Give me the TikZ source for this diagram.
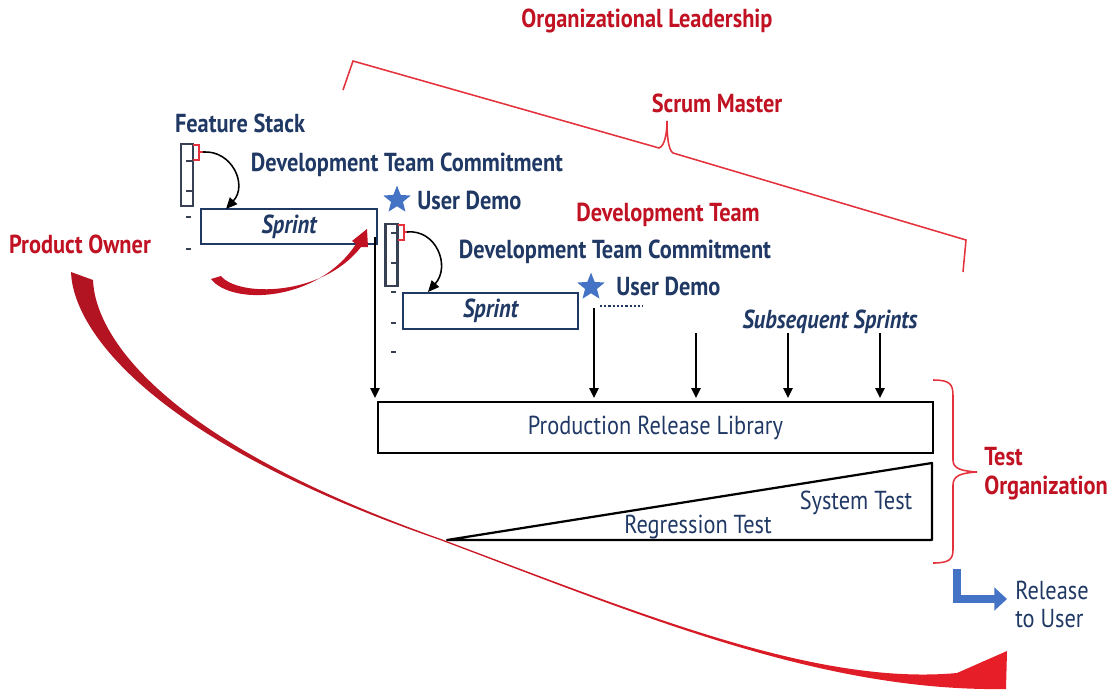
\documentclass[tikz,border=0pt]{standalone}
\usepackage{fontspec}
\setmainfont{PT Sans}[FakeStretch=0.86]
\usetikzlibrary{arrows.meta,shapes.geometric}

\definecolor{navy}{RGB}{31,56,100}
\definecolor{ownerred}{RGB}{192,18,34}
\definecolor{bracered}{RGB}{228,50,60}
\definecolor{demoblue}{RGB}{68,114,196}
\definecolor{boxline}{RGB}{56,64,84}
\definecolor{arrowdark}{RGB}{178,20,34}
\definecolor{arrowlight}{RGB}{232,30,40}

\tikzset{
  redlabel/.style={ownerred, inner sep=0pt, font=\fontsize{18.5}{20.5}\selectfont\bfseries},
  navylabel/.style={navy, inner sep=0pt, font=\fontsize{18.5}{20.5}\selectfont\bfseries},
  navytext/.style={navy, inner sep=0pt, font=\fontsize{18.5}{20}\selectfont},
  sprintbox/.style={draw=boxline, line width=1.3pt, navy, inner sep=0pt, font=\fontsize{18.5}{20}\selectfont\bfseries\itshape},
  stackbox/.style={draw=boxline, line width=1.5pt, minimum width=0.3cm, minimum height=1.55cm, inner sep=0pt},
  demostar/.style={star, star points=5, star point ratio=2.3, fill=demoblue, inner sep=0pt, minimum size=0.72cm},
  droparrow/.style={line width=1.4pt, -{Triangle[length=7pt,width=6.5pt]}, shorten >=2pt},
  turnarrow/.style={line width=1.1pt, -{Triangle[length=8pt,width=7pt]}},
  bracket/.style={bracered, line width=1.1pt},
  stackmark/.style={boxline, line width=0.8pt}
}

\begin{document}
\begin{tikzpicture}[x=0.025cm, y=-0.025cm]
\useasboundingbox (0,0) rectangle (1109,690);

% roles
\node[redlabel] (orglead) at (647,21) {Organizational Leadership};
\node[redlabel] (scrum) at (717,103) {Scrum Master};
\node[redlabel] (devteam) at (668,215) {Development Team};
\node[redlabel] (owner) at (80,244) {Product Owner};
\node[redlabel, anchor=west, align=left] (testorg) at (984,474) {Test\\Organization};

\draw[bracket] (343,90) -- (353,61) -- (659,148) .. controls (665,146) and (667,132) .. (667,121)
  .. controls (667,134) and (668,150) .. (673,153) -- (966,240) -- (963,272);
\draw[bracket] (933,380) .. controls (950,380) and (953,384) .. (953,396) -- (953,460)
  .. controls (953,468) and (960,471) .. (977,472) .. controls (960,473) and (953,476) .. (953,485)
  -- (953,550) .. controls (953,560) and (948,563) .. (933,563);

% first sprint
\node[navylabel] (featstack) at (240,123) {Feature Stack};
\node[stackbox] (stack1) at (187,175) {};
\draw[stackmark] (186,161) -- (193,161) (186,191) -- (193,191);
\foreach \yy in {217,249} \draw[stackmark] (186,\yy) -- (191,\yy);
\draw[bracket] (193,145) -- (199,145) -- (199,160) -- (193,160) (199,152) -- (203,152);
\node[navylabel] (commit1) at (407,165) {Development Team Commitment};
\node[sprintbox, minimum width=4.4cm, minimum height=0.875cm] (sprint1) at (289,226.5) {Sprint};
\coordinate (pick1) at (203,152);
\coordinate (land1) at (226,209);
\draw[turnarrow] (pick1) .. controls (232,150) and (248,185) .. (land1);
\node[demostar] (star1) at (397,200) {};
\node[navylabel, anchor=west] (demo1) at (417,200) {User Demo};
\fill[ownerred] (211,279) .. controls (232,306) and (318,302) .. (356,244) -- (352,241) -- (367,229)
  -- (368,247) -- (361,247) .. controls (322,297) and (238,297) .. (221,276) -- cycle;

% second sprint
\node[stackbox] (stack2) at (391.5,255) {};
\draw[stackmark] (391,233) -- (398,233) (391,263) -- (398,263);
\foreach \yy in {292,323,352} \draw[stackmark] (391,\yy) -- (396,\yy);
\draw[bracket] (398,225) -- (404,225) -- (404,240) -- (398,240) (404,232) -- (407,232);
\node[navylabel] (commit2) at (615,252) {Development Team Commitment};
\node[sprintbox, minimum width=4.375cm, minimum height=0.9cm] (sprint2) at (490.5,311) {Sprint};
\coordinate (pick2) at (407,232);
\coordinate (land2) at (428,292);
\draw[turnarrow] (pick2) .. controls (436,229) and (451,266) .. (land2);
\node[demostar] (star2) at (591,287) {};
\node[navylabel, anchor=west] (demo2) at (616,286) {User Demo};
\draw[navy, line width=1.4pt, dash pattern=on 1.6pt off 1.4pt] (600,306) -- (643,306);

\node[navylabel, font=\fontsize{18.5}{20.5}\selectfont\bfseries\itshape] (subseq) at (830,322) {Subsequent Sprints};

% release chain
\node[draw=black, text=navy, line width=1.6pt, minimum width=13.875cm, minimum height=1.275cm, inner sep=0pt,
  font=\fontsize{18.5}{20}\selectfont] (prodlib) at (655.5,427.5) {Production Release Library};
\coordinate (drop0) at (375,237);
\coordinate (drop1) at (594,308);
\draw[droparrow] (drop0) -- (drop0 |- prodlib.north);
\draw[droparrow] (drop1) -- (drop1 |- prodlib.north);
\foreach \xx in {696,788,880} {
  \coordinate (dropx) at (\xx,333);
  \draw[droparrow] (dropx) -- (dropx |- prodlib.north);
}

\draw[line width=1.6pt, line join=round] (447,540) -- (932,463) -- (932,540) -- cycle;
\node[navytext] (systest) at (856,503) {System Test};
\node[navytext] (regtest) at (698,527) {Regression Test};

\coordinate (turn) at (957,569);
\coordinate (handoff) at (1007,599);
\draw[demoblue, line width=6pt, -{Triangle[length=9pt,width=16pt]}] (turn) |- (handoff);
\node[navytext, anchor=west, align=left, font=\fontsize{18.5}{20}\selectfont] (release) at (1015,604) {Release\\to User};

% product owner sweep
\shade[left color=arrowdark, right color=arrowlight]
  (71,272) .. controls (73,330) and (150,440) .. (440,540)
  .. controls (640,615) and (820,692) .. (1006,689) -- (1007,651) -- (957,673)
  .. controls (815,686) and (639,613) .. (441,539)
  .. controls (158,439) and (95,334) .. (93,280) -- cycle;

\end{tikzpicture}
\end{document}
